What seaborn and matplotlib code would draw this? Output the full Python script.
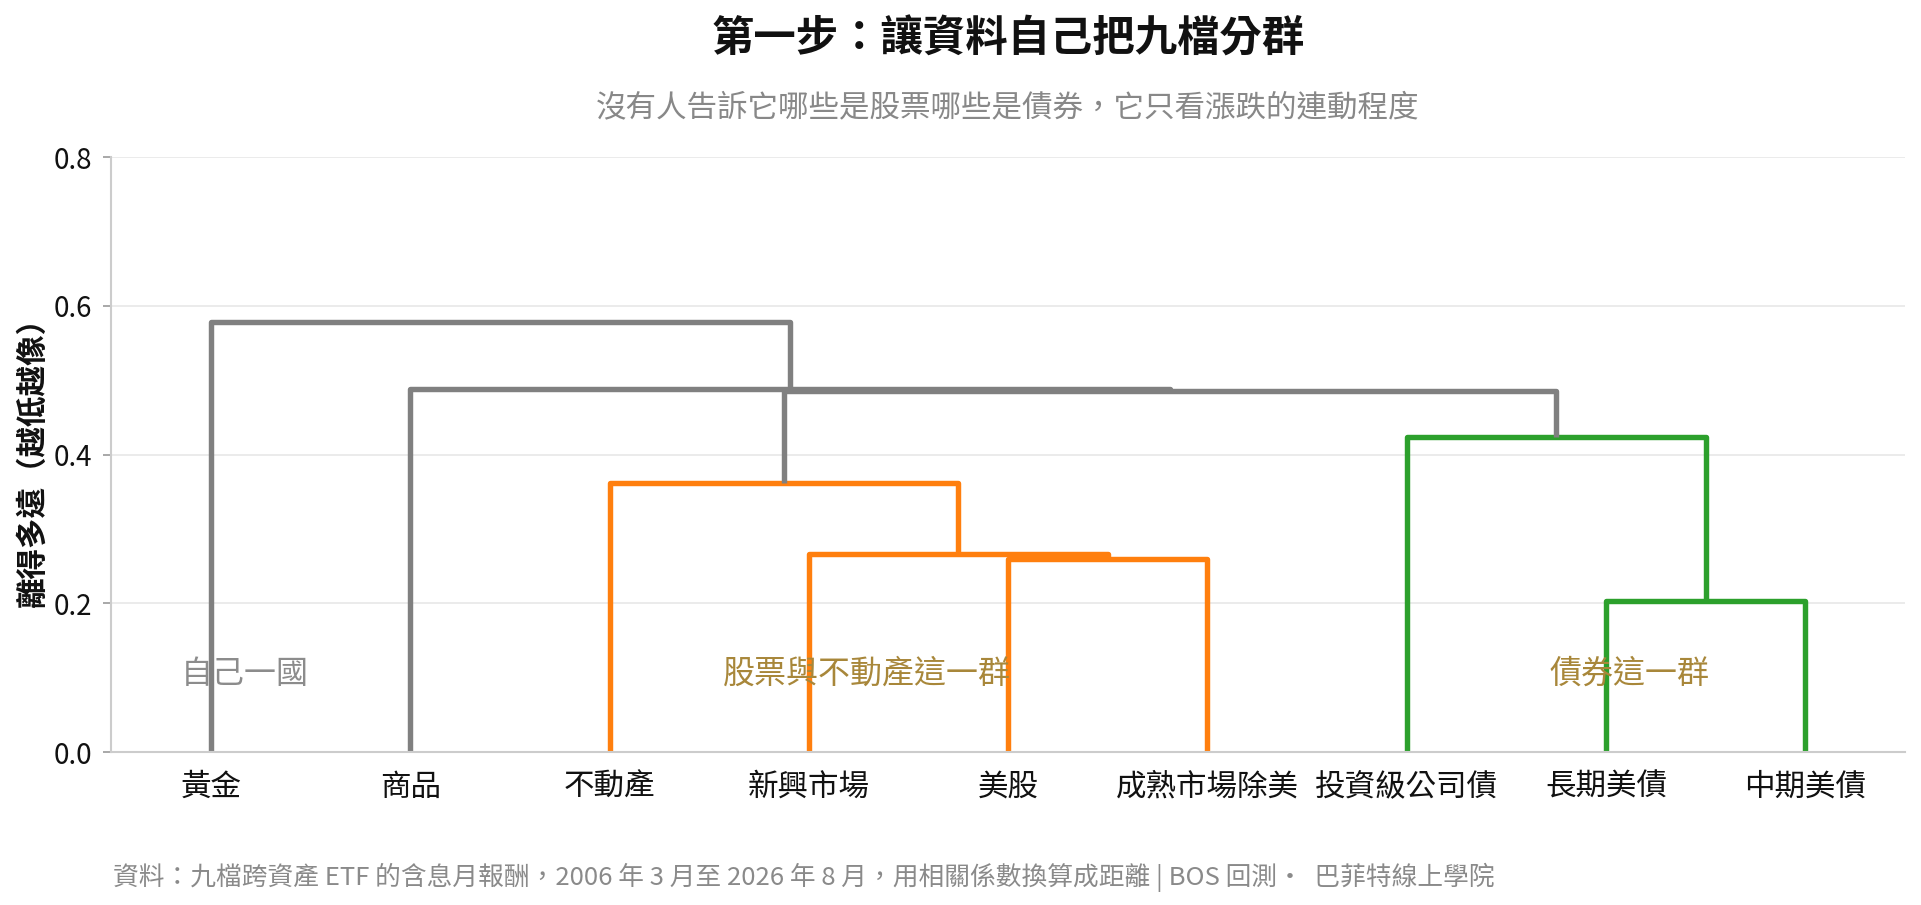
import numpy as np
import pandas as pd
import matplotlib
matplotlib.use("Agg")
import matplotlib.pyplot as plt
import seaborn as sns

# ---- data ----
leaves = ["黃金", "商品", "不動產", "新興市場", "美股", "成熟市場除美", "投資級公司債", "長期美債", "中期美債"]
# merges (left child, right child, height); ids >= 9 refer to earlier merges
merge_left = [7, 4, 3, 2, 6, 12, 1, 0]
merge_right = [8, 5, 10, 11, 9, 13, 14, 15]
merge_height = [0.203, 0.260, 0.266, 0.362, 0.424, 0.485, 0.488, 0.578]
merge_group = ["債券", "股票", "股票", "股票", "債券", "上層", "上層", "上層"]
group_colors = {"股票": "#ff7f0e", "債券": "#2ca02c", "上層": "#808080"}

ann_text = ["自己一國", "股票與不動產這一群", "債券這一群"]
ann_x = [6.7, 37.9, 76.2]
ann_y = [0.105, 0.105, 0.105]
ann_color = ["#8c8c8c", "#a8873a", "#a8873a"]

title = "第一步：讓資料自己把九檔分群"
subtitle = "沒有人告訴它哪些是股票哪些是債券，它只看漲跌的連動程度"
ylabel = "離得多遠（越低越像）"
footnote = "資料：九檔跨資產 ETF 的含息月報酬，2006 年 3 月至 2026 年 8 月，用相關係數換算成距離 | BOS 回測·  巴菲特線上學院"
yticks = [0.0, 0.2, 0.4, 0.6, 0.8]

# ---- dendrogram coordinates (scipy-style: leaf i at 5 + 10*i) ----
n = len(leaves)
node_x = {i: 5 + 10 * i for i in range(n)}
node_y = {i: 0.0 for i in range(n)}
rows = []
for k, (a, b, h, g) in enumerate(zip(merge_left, merge_right, merge_height, merge_group)):
    xs = [node_x[a], node_x[a], node_x[b], node_x[b]]
    ys = [node_y[a], h, h, node_y[b]]
    for j, (xx, yy) in enumerate(zip(xs, ys)):
        rows.append({"link": k, "order": j, "x": xx, "y": yy, "group": g})
    node_x[n + k] = (node_x[a] + node_x[b]) / 2
    node_y[n + k] = h
df = pd.DataFrame(rows)

# ---- style ----
sns.set_theme(style="white")
plt.rcParams["font.family"] = ["Noto Sans CJK TC", "DejaVu Sans"]

fig = plt.figure(figsize=(19.21, 9.05), dpi=100)
ax = fig.add_axes([0.058, 0.169, 0.9336, 0.6575])

for k in range(len(merge_height)):
    sub = df[df["link"] == k]
    sns.lineplot(data=sub, x="x", y="y", sort=False, estimator=None,
                 color=group_colors[merge_group[k]], lw=3.9, ax=ax,
                 solid_joinstyle="round", solid_capstyle="butt")

ax.set_xlim(0, 10 * n)
ax.set_ylim(0, 0.8)
ax.set_xticks([5 + 10 * i for i in range(n)])
ax.set_xticklabels(leaves, fontsize=22, color="#111111")
ax.set_yticks(yticks)
ax.set_yticklabels([f"{v:.1f}" for v in yticks], fontsize=20, color="#111111")
ax.tick_params(axis="x", length=0, pad=14)
ax.tick_params(axis="y", length=6, width=1.2, color="#999999", pad=8, left=True)
ax.set_xlabel("")
ax.set_ylabel(ylabel, fontsize=22, fontweight="bold", color="#111111")
ax.yaxis.set_label_coords(-0.035, 0.50)

ax.grid(axis="y", color="#e8e8e8", lw=1.2)
ax.grid(axis="x", visible=False)
ax.set_axisbelow(True)
for s in ["top", "right"]:
    ax.spines[s].set_visible(False)
for s in ["left", "bottom"]:
    ax.spines[s].set_color("#cccccc")
    ax.spines[s].set_linewidth(1.5)

for t, xx, yy, c in zip(ann_text, ann_x, ann_y, ann_color):
    ax.text(xx, yy, t, ha="center", va="center", fontsize=23, color=c)

fig.text(0.5247, 0.956, title, ha="center", va="center", fontsize=30.5,
         fontweight="bold", color="#111111")
fig.text(0.5247, 0.881, subtitle, ha="center", va="center", fontsize=22,
         color="#888888")
fig.text(0.0588, 0.031, footnote, ha="left", va="center", fontsize=18.5,
         color="#8a8a8a")

fig.savefig("out.png", dpi=100)
